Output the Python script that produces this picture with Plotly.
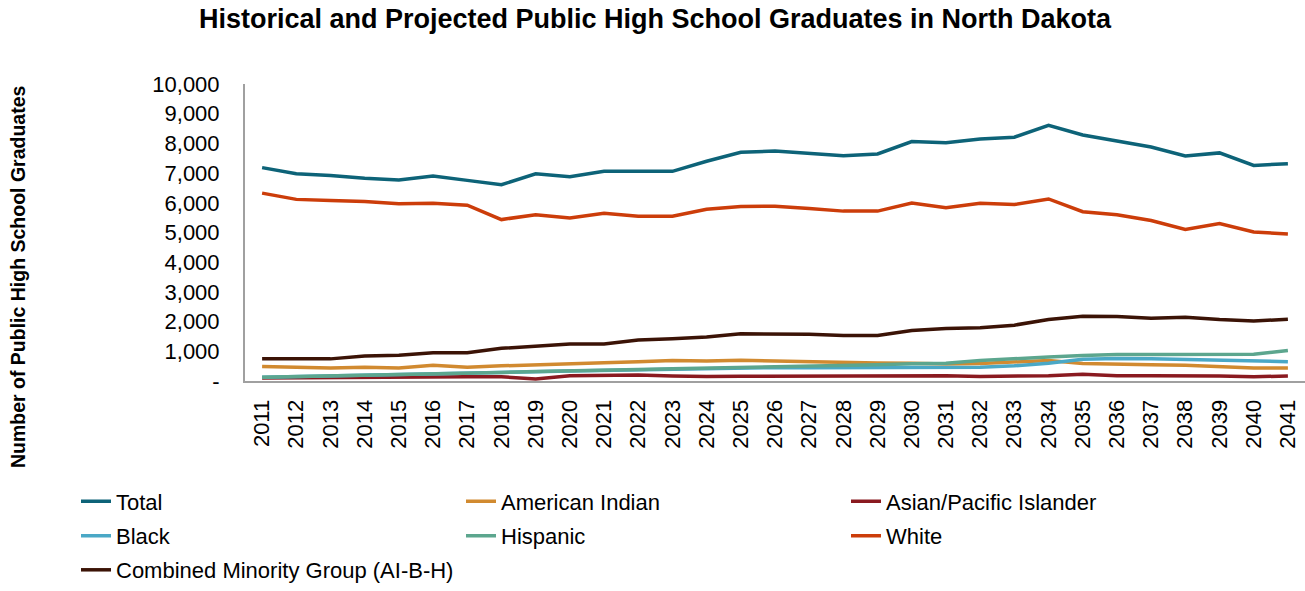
import plotly.graph_objects as go

years = [str(y) for y in range(2011, 2042)]

total = [7185, 6975, 6920, 6830, 6770, 6900, 6755, 6610, 6975, 6875, 7060, 7060, 7060, 7400, 7700,
         7745, 7655, 7580, 7645, 8060, 8020, 8150, 8210, 8610, 8285, 8085, 7880, 7580, 7680, 7260, 7315]
american_indian = [485, 455, 435, 460, 440, 530, 460, 510, 555, 590, 615, 650, 690, 670, 695,
                   675, 650, 620, 610, 600, 570, 590, 630, 690, 590, 560, 550, 530, 480, 440, 440]
asian_pi = [100, 110, 110, 110, 120, 130, 140, 140, 70, 180, 200, 200, 170, 150, 160,
            160, 160, 160, 170, 170, 180, 150, 170, 180, 230, 180, 180, 180, 170, 140, 170]
black = [130, 150, 170, 190, 210, 230, 250, 280, 310, 340, 360, 380, 400, 420, 440,
         450, 450, 455, 460, 460, 460, 460, 510, 600, 730, 760, 750, 730, 700, 680, 650]
hispanic = [130, 150, 170, 200, 220, 240, 260, 290, 320, 350, 370, 390, 410, 430, 450,
            470, 500, 530, 550, 580, 600, 690, 760, 810, 860, 890, 890, 900, 900, 900, 1030]
white = [6325, 6115, 6075, 6040, 5965, 5985, 5920, 5435, 5600, 5490, 5645, 5545, 5545, 5785, 5875,
         5885, 5810, 5720, 5720, 5995, 5830, 5985, 5940, 6130, 5700, 5600, 5405, 5105, 5305, 5015, 4950]
combined = [745, 745, 745, 840, 870, 950, 950, 1100, 1180, 1250, 1250, 1380, 1420, 1480, 1590,
            1590, 1570, 1530, 1530, 1700, 1770, 1790, 1880, 2070, 2180, 2170, 2110, 2150, 2070, 2020, 2080]

series_names = ["Total", "American Indian", "Asian/Pacific Islander", "Black", "Hispanic", "White",
                "Combined Minority Group (AI-B-H)"]
series_values = [total, american_indian, asian_pi, black, hispanic, white, combined]
colors = ["#0D6378", "#D18A30", "#8A1A20", "#4AA8C6", "#5CA68E", "#CC3D0A", "#3B1306"]
legend_rows = ["legend", "legend", "legend", "legend2", "legend2", "legend2", "legend3"]

y_tickvals = list(range(0, 10001, 1000))
y_ticktext = ["-"] + [f"{v:,}" for v in y_tickvals[1:]]

FONT = "Liberation Sans, Arial, sans-serif"

fig = go.Figure()
for name, vals, col, lg in zip(series_names, series_values, colors, legend_rows):
    fig.add_trace(go.Scatter(x=years, y=vals, name=name, mode="lines", legend=lg,
                             line=dict(color=col, width=3.5)))

W, H = 1305, 591
# page coordinates of the plot area (body margin removed below)
P_L, P_R, P_T, P_B = 245, 1305, 84, 387
L, T, R, B = P_L, P_T, W - P_R, H - P_B
pw = W - L - R
ph = H - T - B


def px_x(page_x):
    return (page_x - L) / pw


def px_y(page_y):
    return (P_B - page_y) / ph


def legend_cfg(page_y_center):
    return dict(orientation="h", x=px_x(76), xanchor="left",
                y=px_y(page_y_center), yanchor="middle",
                font=dict(family=FONT, size=22, color="black"),
                entrywidth=340, entrywidthmode="pixels",
                bgcolor="rgba(0,0,0,0)", traceorder="normal")


fig.update_layout(
    width=W, height=H,
    margin=dict(l=L, r=R, t=T, b=B, pad=0),
    paper_bgcolor="white", plot_bgcolor="white",
    font=dict(family=FONT, color="black", size=22),
    title=dict(text="<b>Historical and Projected Public High School Graduates in North Dakota</b>",
               x=655 / W, xref="container", xanchor="center",
               y=1 - 19 / H, yref="container", yanchor="middle",
               font=dict(family=FONT, size=27, color="black")),
    showlegend=True,
    legend=legend_cfg(510),
    legend2=legend_cfg(545),
    legend3=legend_cfg(580),
    xaxis=dict(type="category", range=[-0.5, len(years) - 0.5], showgrid=False, showline=True,
               linecolor="#A0A0A0", linewidth=2, ticks="", tickangle=-90,
               tickfont=dict(family=FONT, size=22, color="black"), ticklabelstandoff=8,
               automargin=False, zeroline=False),
    yaxis=dict(range=[0, 10000], tickvals=y_tickvals, ticktext=y_ticktext, showgrid=False,
               showline=True, linecolor="#A0A0A0", linewidth=2, ticks="", zeroline=False,
               tickfont=dict(family=FONT, size=22, color="black"), ticklabelstandoff=19,
               automargin=False),
    annotations=[dict(text="<b>Number of Public High School Graduates</b>", textangle=-90,
                      xref="paper", yref="paper", x=px_x(18), y=px_y(281),
                      xanchor="center", yanchor="middle", showarrow=False,
                      font=dict(family=FONT, size=19.5, color="black"))],
)

fig.write_html("out.html", config={"displayModeBar": False},
               post_script="document.body.style.margin='0';document.body.style.overflow='hidden';")
